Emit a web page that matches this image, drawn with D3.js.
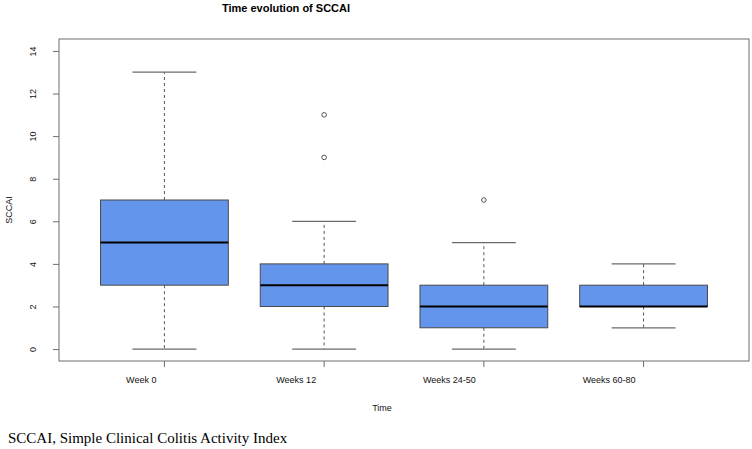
<!DOCTYPE html>
<html>
<head>
<meta charset="utf-8">
<script src="https://cdn.jsdelivr.net/npm/d3@7"></script>
<style>
  body { margin: 0; background: #fff; }
  svg { display: block; font-family: 'Liberation Sans', Arial, sans-serif; }
</style>
</head>
<body>
<div class="canvas"></div>
<script>
'use strict';

const categories = ['Week 0', 'Weeks 12', 'Weeks 24-50', 'Weeks 60-80'];
const whiskerLow = [0, 0, 0, 1];
const q1 = [3, 2, 1, 2];
const medians = [5, 3, 2, 2];
const q3 = [7, 4, 3, 3];
const whiskerHigh = [13, 6, 5, 4];
const outliers = [[], [9, 11], [7], []];
const yTicks = [0, 2, 4, 6, 8, 10, 12, 14];

const boxes = categories.map((name, i) => ({
  name,
  lo: whiskerLow[i],
  q1: q1[i],
  med: medians[i],
  q3: q3[i],
  hi: whiskerHigh[i],
  out: outliers[i]
}));

const width = 752;
const height = 449;
const plot = { left: 59, right: 749, top: 39, bottom: 361 };

const svg = d3
  .select('.canvas')
  .append('svg')
  .attr('width', width)
  .attr('height', height);

const x = d3
  .scaleBand()
  .domain(categories)
  .range([plot.left, plot.right])
  .paddingInner(0.2)
  .paddingOuter(0.26);

const y = d3
  .scaleLinear()
  .domain([-0.56, 14.56])
  .range([plot.bottom, plot.top]);

const bw = x.bandwidth();
const cx = d => x(d.name) + bw / 2;

// frame
svg
  .append('rect')
  .attr('x', plot.left)
  .attr('y', plot.top)
  .attr('width', plot.right - plot.left)
  .attr('height', plot.bottom - plot.top)
  .attr('fill', 'none')
  .attr('stroke', '#6e6e6e')
  .attr('stroke-width', 1);

// axes
const yAxisGroup = svg
  .append('g')
  .attr('transform', `translate(${plot.left},0)`)
  .call(d3.axisLeft(y).tickValues(yTicks).tickSize(6).tickSizeOuter(0));

yAxisGroup.select('.domain').remove();
yAxisGroup.selectAll('line').attr('stroke', '#6e6e6e');
yAxisGroup
  .selectAll('text')
  .attr('transform', 'rotate(-90)')
  .attr('x', 0)
  .attr('y', -23)
  .attr('dy', 0)
  .attr('text-anchor', 'middle')
  .attr('fill', '#111')
  .style('font-size', '9px');

const xAxisGroup = svg
  .append('g')
  .attr('transform', `translate(0,${plot.bottom})`)
  .call(d3.axisBottom(x).tickSize(6).tickSizeOuter(0));

xAxisGroup.select('.domain').remove();
xAxisGroup.selectAll('line').attr('stroke', '#6e6e6e');
xAxisGroup
  .selectAll('text')
  .attr('y', 22)
  .attr('dy', 0)
  .attr('dx', -8)
  .attr('text-anchor', 'end')
  .attr('fill', '#111')
  .style('font-size', '9px');

// whiskers
const g = svg.append('g');

const wh = g.selectAll('g.box').data(boxes).enter().append('g').attr('class', 'box');

wh.append('line')
  .attr('x1', cx)
  .attr('x2', cx)
  .attr('y1', d => y(d.q3))
  .attr('y2', d => y(d.hi))
  .attr('stroke', '#555')
  .attr('stroke-dasharray', '3,3');

wh.append('line')
  .attr('x1', cx)
  .attr('x2', cx)
  .attr('y1', d => y(d.q1))
  .attr('y2', d => y(d.lo))
  .attr('stroke', '#555')
  .attr('stroke-dasharray', '3,3');

// staples
['hi', 'lo'].forEach(k => {
  wh.append('line')
    .attr('x1', d => cx(d) - bw / 4)
    .attr('x2', d => cx(d) + bw / 4)
    .attr('y1', d => y(d[k]))
    .attr('y2', d => y(d[k]))
    .attr('stroke', '#6a6a6a')
    .attr('stroke-width', 1.2);
});

// boxes
wh.append('rect')
  .attr('x', d => x(d.name))
  .attr('width', bw)
  .attr('y', d => y(d.q3))
  .attr('height', d => y(d.q1) - y(d.q3))
  .attr('fill', '#6495ed')
  .attr('stroke', '#4a4a4a')
  .attr('stroke-width', 1);

wh.append('line')
  .attr('x1', d => x(d.name))
  .attr('x2', d => x(d.name) + bw)
  .attr('y1', d => y(d.med))
  .attr('y2', d => y(d.med))
  .attr('stroke', '#000')
  .attr('stroke-width', 2);

// outliers
wh.selectAll('circle')
  .data(d => d.out.map(v => ({ name: d.name, v })))
  .enter()
  .append('circle')
  .attr('cx', cx)
  .attr('cy', d => y(d.v))
  .attr('r', 2.3)
  .attr('fill', 'none')
  .attr('stroke', '#444')
  .attr('stroke-width', 0.9);

// labels
svg
  .append('text')
  .attr('x', 286)
  .attr('y', 12)
  .attr('text-anchor', 'middle')
  .style('font-size', '11px')
  .style('font-weight', 'bold')
  .text('Time evolution of SCCAI');

svg
  .append('text')
  .attr('x', (plot.left + plot.right) / 2 - 22)
  .attr('y', 411)
  .attr('text-anchor', 'middle')
  .attr('fill', '#111')
  .style('font-size', '9px')
  .text('Time');

svg
  .append('text')
  .attr('transform', 'translate(12,210) rotate(-90)')
  .attr('text-anchor', 'middle')
  .attr('fill', '#111')
  .style('font-size', '9px')
  .text('SCCAI');

svg
  .append('text')
  .attr('x', 8)
  .attr('y', 443)
  .style('font-family', "'Liberation Serif', 'Times New Roman', serif")
  .style('font-size', '15px')
  .text('SCCAI, Simple Clinical Colitis Activity Index');
</script>
</body>
</html>
